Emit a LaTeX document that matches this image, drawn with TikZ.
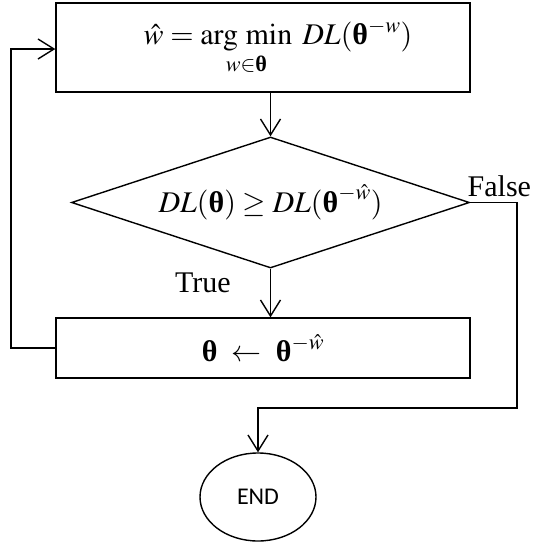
\documentclass[tikz,border=0pt]{standalone}
\usepackage{amsmath}
\usepackage{mathptmx}
\usepackage{fontspec}
\setmainfont{Liberation Serif}
\newfontfamily\endfont{Carlito}
\usetikzlibrary{shapes.geometric,arrows.meta}
\newcommand{\bth}{\text{\bfseries θ}}
\begin{document}
\begin{tikzpicture}[x=1pt,y=-1pt,
  line width=1.4pt,
  procbox/.style={draw, rectangle, minimum width=414pt, inner sep=0pt, font=\fontsize{30}{33}\selectfont},
  decbox/.style={draw, diamond, aspect=3.04, minimum width=398pt, minimum height=131pt, inner sep=0pt, font=\fontsize{30}{33}\selectfont},
  endbox/.style={draw, ellipse, minimum width=116pt, minimum height=88pt, inner sep=0pt, font=\endfont\fontsize{24}{26}\selectfont},
  lbl/.style={font=\fontsize{30}{33}\selectfont, inner sep=0pt},
  arr/.style={-{Straight Barb[length=16pt,width=20pt,line width=1.4pt]}}
]
\useasboundingbox (0,0) rectangle (534,544);
\node[procbox, minimum height=89pt] (top) at (263,47.5) {\raisebox{-3pt}{\hspace*{30pt}$\hat{w}=\operatorname*{arg\ min}\limits_{w\in\bth}\; DL(\bth^{-w})$}};
\node[decbox] (dia) at (270.5,202.5) {$DL(\bth)\geq DL(\bth^{-\hat{w}})$};
\node[procbox, minimum height=60pt] (upd) at (263,348) {$\bth\ \leftarrow\ \bth^{-\hat{w}}$};
\node[endbox] (end) at (258,497) {END};
\node[lbl, anchor=base] (tru) at (203,292) {True};
\node[lbl, anchor=base west] (fal) at (467,196) {False};
\coordinate (fr) at (517,202.5);
\coordinate (fd) at (517,408);
\coordinate (fl) at (258,408);
\coordinate (bl) at (11,348);
\coordinate (tl) at (11,49);
\draw[arr] (dia.north |- top.south) -- (dia.north);
\draw[arr] (dia.south) -- (dia.south |- upd.north);
\draw[arr] (dia.east) -- (fr) -- (fd) -- (fl) -- (end.north);
\draw[arr] (upd.west |- bl) -- (bl) -- (tl) -- (top.west |- tl);
\end{tikzpicture}
\end{document}
